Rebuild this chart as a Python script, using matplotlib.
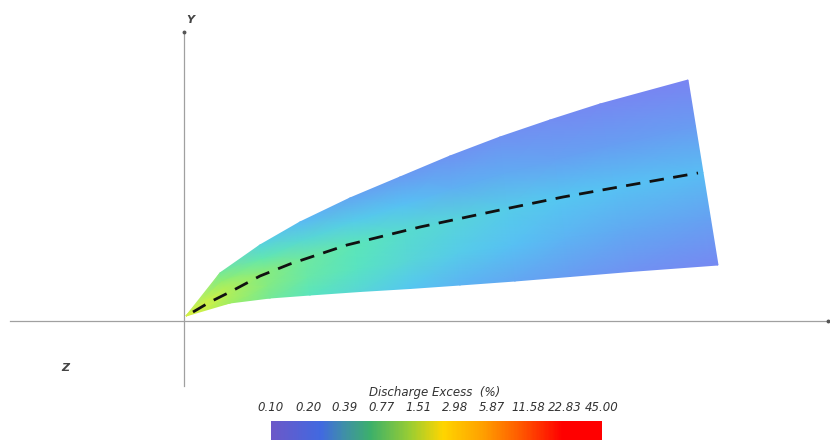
import numpy as np
import matplotlib
matplotlib.use("Agg")
import matplotlib.pyplot as plt
from matplotlib.colors import LinearSegmentedColormap, LogNorm
from matplotlib.cm import ScalarMappable

# plume outline (m downstream, m height), paired upper/lower stations
upper_x = [0.2, 3.6, 7.6, 11.6, 16.6, 21.6, 26.6, 31.6, 36.6, 41.6, 50.4]
upper_y = [0.5, 4.8, 7.6, 9.9, 12.3, 14.4, 16.5, 18.4, 20.1, 21.7, 24.1]
lower_x = [0.2, 4.6, 8.6, 12.6, 17.6, 22.6, 27.6, 33.1, 38.6, 44.6, 53.4]
lower_y = [0.5, 1.8, 2.3, 2.6, 2.95, 3.25, 3.6, 4.0, 4.45, 4.95, 5.6]

# plume centreline
center_x = [0.9, 2.6, 4.6, 7.6, 10.6, 16.3, 23.6, 31.6, 37.9, 44.6, 51.4]
center_y = [0.9, 1.9, 2.9, 4.5, 5.7, 7.6, 9.4, 11.1, 12.4, 13.6, 14.8]

# discharge excess (%) across the plume: rows lower edge -> upper edge
cross_frac = [0.0, 0.25, 0.5, 0.75, 1.0]
excess = [
    [2.5, 1.3, 0.80, 0.58, 0.42, 0.31, 0.24, 0.20, 0.17, 0.14, 0.12],
    [2.5, 1.5, 0.95, 0.70, 0.55, 0.42, 0.34, 0.28, 0.24, 0.21, 0.19],
    [2.5, 1.5, 1.00, 0.75, 0.60, 0.48, 0.40, 0.34, 0.31, 0.29, 0.27],
    [2.5, 1.1, 0.65, 0.44, 0.34, 0.28, 0.23, 0.21, 0.19, 0.18, 0.17],
    [2.5, 0.8, 0.40, 0.26, 0.20, 0.17, 0.15, 0.14, 0.13, 0.12, 0.11],
]

cbar_ticks = [0.10, 0.20, 0.39, 0.77, 1.51, 2.98, 5.87, 11.58, 22.83, 45.00]

# legend colour scale
cbar_cmap = LinearSegmentedColormap.from_list("excess", [
    (0.00, "#6c58c8"), (0.15, "#4169e0"), (0.22, "#3f8fa8"), (0.30, "#3cb06a"),
    (0.42, "#9acd32"), (0.52, "#ffd500"), (0.64, "#ffa000"), (0.76, "#ff5500"),
    (0.88, "#ff0000"), (1.00, "#ff0000")])
# same scale as it looks on the lit surface
surf_cmap = LinearSegmentedColormap.from_list("excess_lit", [
    (0.00, "#7c80f2"), (0.10, "#66a0f2"), (0.18, "#55c6f3"), (0.29, "#5ae6bc"),
    (0.41, "#9aee66"), (0.53, "#e8f23a"), (0.64, "#ffb020"), (0.76, "#ff5a10"),
    (0.88, "#ff1010"), (1.00, "#ff0000")])
norm = LogNorm(vmin=0.10, vmax=45.0)

fig = plt.figure(figsize=(8.3, 4.4), dpi=100)
ax = fig.add_axes([0, 0, 1, 1])
ax.set_xlim(-18.4, 64.6)
ax.set_ylim(-11.9, 32.1)
ax.axis("off")

# axes lines
ax.plot([-17.4, 64.4], [0, 0], color="#a0a0a0", lw=0.9, zorder=1)
ax.plot([0, 0], [-6.5, 28.9], color="#a0a0a0", lw=0.9, zorder=1)
ax.plot([64.4], [0], marker="o", ms=1.8, color="#555555", zorder=1)
ax.plot([0], [28.9], marker="o", ms=1.8, color="#555555", zorder=1)
ax.text(0.6, 30.1, "Y", fontsize=8, style="italic", weight="bold",
        color="#444444", ha="center", va="center")
ax.text(-11.9, -4.7, "Z", fontsize=8, style="italic", weight="bold",
        color="#444444", ha="center", va="center")

# plume surface
t = np.array(cross_frac)[:, None]
X = np.array(lower_x)[None, :] + t * (np.array(upper_x) - np.array(lower_x))[None, :]
Y = np.array(lower_y)[None, :] + t * (np.array(upper_y) - np.array(lower_y))[None, :]
ax.pcolormesh(X, Y, np.array(excess), cmap=surf_cmap, norm=norm,
              shading="gouraud", zorder=2)

ax.plot(center_x, center_y, color="#111111", lw=2.0, dashes=(5.2, 3.4),
        solid_capstyle="butt", zorder=3)

# colour bar
cax = fig.add_axes([271 / 830, 0, 331 / 830, 19 / 440])
cb = fig.colorbar(ScalarMappable(norm=norm, cmap=cbar_cmap), cax=cax,
                  orientation="horizontal", ticklocation="top")
cb.outline.set_visible(False)
cb.set_ticks(cbar_ticks)
cb.set_ticklabels([f"{v:.2f}" for v in cbar_ticks])
cb.minorticks_off()
cax.tick_params(length=0, pad=5, labelsize=8.5, labelcolor="#333333")
for lab in cax.get_xticklabels():
    lab.set_fontstyle("italic")
fig.text(435 / 830, 1 - 392 / 440, "Discharge Excess  (%)", fontsize=8.5,
         style="italic", color="#333333", ha="center", va="center")

fig.savefig("out.png", dpi=100, facecolor="white")
